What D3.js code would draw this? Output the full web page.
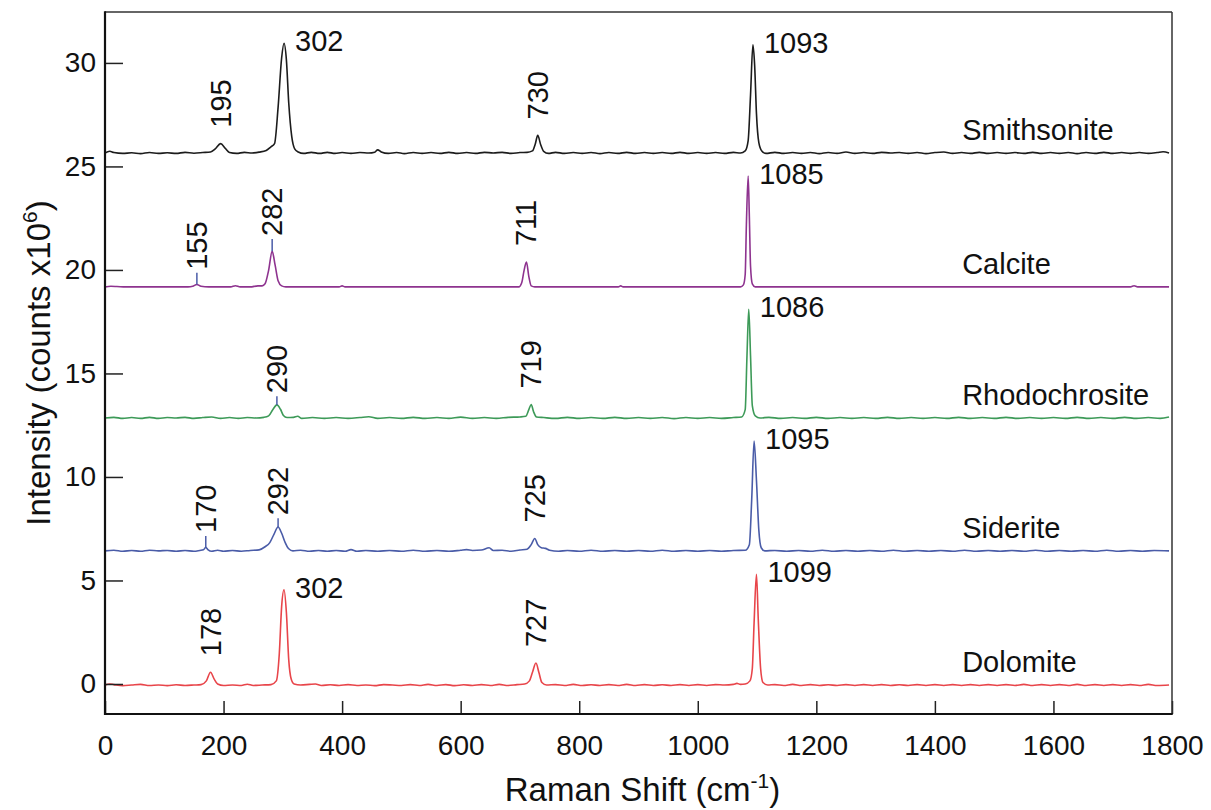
<!DOCTYPE html>
<html>
<head>
<meta charset="utf-8">
<script src="https://cdn.jsdelivr.net/npm/d3@7"></script>
<style>
  html, body { margin: 0; padding: 0; background: #fff; }
  svg { display: block; font-family: "Liberation Sans", Arial, Helvetica, sans-serif; }
</style>
</head>
<body>
<svg id="chart" width="1211" height="810"></svg>
<script>
// Raman spectra of carbonate minerals, stacked with vertical offsets (counts x10^6)

const seriesNames = ["Smithsonite", "Calcite", "Rhodochrosite", "Siderite", "Dolomite"];
const seriesColors = ["#1c1c1c", "#8e338f", "#3d9a58", "#4a5ca8", "#e8454a"];
const seriesOffsets = [25.65, 19.18, 12.85, 6.43, -0.05];

const xTicks = [0, 200, 400, 600, 800, 1000, 1200, 1400, 1600, 1800];
const yTicks = [0, 5, 10, 15, 20, 25, 30];

// [Raman shift (cm^-1), intensity above the trace's own baseline]
const smithsonite = [[0,0],[8,0.08],[15,0.02],[30,-0.02],[45,0.01],[60,-0.03],[75,0.02],[90,-0.02],[105,0.01],[120,-0.02],[135,0.03],[150,-0.01],[165,0.02],[178,0.05],[186,0.2],[195,0.45],[203,0.22],[210,0.02],[222,-0.02],[235,0.03],[248,0],[260,0.04],[272,0.12],[280,0.3],[286,0.45],[292,2.2],[298,4.6],[302,5.3],[306,4.5],[310,2.4],[315,0.8],[320,0.2],[326,0.05],[335,-0.02],[348,0.03],[362,-0.02],[375,0.03],[388,-0.02],[400,0.02],[415,-0.02],[430,0.02],[445,0],[455,0.04],[460,0.15],[466,0.05],[478,-0.02],[492,0.02],[505,-0.03],[520,0.02],[535,-0.02],[550,0.02],[565,-0.02],[580,0.03],[595,-0.02],[610,0.02],[625,-0.02],[640,0.03],[655,0],[670,0.03],[685,-0.02],[700,0.02],[712,0.03],[721,0.1],[726,0.45],[730,0.85],[735,0.4],[740,0.08],[748,-0.02],[760,0.03],[775,-0.02],[790,0.02],[805,-0.02],[820,0.02],[835,-0.03],[850,0.02],[865,-0.02],[880,0.03],[895,-0.02],[910,0.02],[925,-0.02],[940,0.02],[955,-0.02],[970,0.03],[985,-0.02],[1000,0.02],[1015,-0.02],[1030,0.02],[1045,-0.02],[1060,0.03],[1072,0],[1080,0.1],[1085,0.6],[1089,2.8],[1093,5.22],[1096,4.2],[1099,1.9],[1103,0.5],[1108,0.1],[1115,-0.02],[1130,0.03],[1145,-0.02],[1160,0.02],[1175,-0.02],[1190,0.02],[1205,-0.03],[1220,0.02],[1235,-0.02],[1250,0.05],[1265,-0.02],[1280,0.02],[1295,-0.02],[1310,0.03],[1325,0],[1340,0.02],[1355,-0.02],[1370,0.02],[1385,-0.03],[1400,0.02],[1415,0.05],[1430,-0.02],[1445,0.02],[1460,-0.02],[1475,0.03],[1490,-0.02],[1505,0.02],[1520,-0.02],[1535,0.02],[1550,-0.02],[1565,0.03],[1580,-0.02],[1595,0.02],[1610,-0.02],[1625,0.02],[1640,-0.03],[1655,0.02],[1670,-0.02],[1685,0.03],[1700,-0.02],[1715,0.02],[1730,-0.02],[1745,0.02],[1760,-0.02],[1775,0.02],[1785,0.06],[1795,0]];

const calcite = [[0,0],[10,0.03],[20,0.02],[35,0],[60,0],[90,0],[120,0],[140,0],[148,0.03],[155,0.12],[162,0.03],[175,0],[200,0],[212,0],[220,0.06],[228,0],[245,0],[258,0.05],[265,0.05],[270,0.15],[276,0.8],[282,1.72],[287,1.05],[292,0.3],[298,0.05],[305,0],[330,0],[360,0],[395,0],[400,0.05],[405,0],[450,0],[500,0],[550,0],[600,0],[650,0],[698,0],[703,0.2],[707,0.8],[711,1.2],[715,0.5],[719,0.05],[725,0],[780,0],[830,0],[866,0],[870,0.05],[874,0],[920,0],[970,0],[1020,0],[1060,0],[1072,0],[1077,0.1],[1080,0.6],[1082,3.0],[1085,5.36],[1087,3.4],[1089,1.0],[1092,0.15],[1097,0],[1150,0],[1250,0],[1350,0],[1450,0],[1550,0],[1650,0],[1730,0],[1736,0.06],[1742,0],[1795,0]];

const rhodochrosite = [[0,0],[15,0.03],[30,-0.02],[45,0.02],[60,-0.02],[75,0.03],[90,-0.02],[105,0.02],[120,0],[135,0.03],[150,-0.02],[165,0.02],[180,0.05],[195,-0.02],[210,0.02],[225,-0.02],[240,0.02],[255,0],[268,0.03],[276,0.1],[283,0.4],[290,0.63],[296,0.42],[301,0.12],[307,0.02],[318,0.03],[325,0.08],[332,-0.02],[350,0.02],[370,-0.02],[390,0.02],[410,-0.02],[430,0.02],[445,0.06],[460,-0.02],[480,0.02],[500,-0.02],[520,0.03],[540,-0.02],[560,0.02],[580,-0.02],[600,0.04],[620,-0.02],[640,0.02],[660,-0.02],[680,0.03],[700,0.05],[710,0.08],[715,0.4],[719,0.65],[723,0.3],[728,0.05],[740,0.02],[760,-0.02],[780,0.03],[800,-0.02],[820,0.02],[840,-0.02],[860,0.03],[880,-0.02],[900,0.02],[920,-0.02],[940,0.02],[960,-0.03],[980,0.02],[1000,-0.02],[1020,0.02],[1040,-0.02],[1060,0.02],[1074,0.05],[1080,0.4],[1083,3.0],[1086,5.25],[1089,3.0],[1092,0.6],[1097,0.1],[1105,0],[1120,0.03],[1140,-0.02],[1160,0.02],[1180,-0.02],[1200,0.03],[1220,-0.02],[1240,0.02],[1260,-0.02],[1280,0.02],[1300,-0.02],[1320,0.03],[1340,-0.02],[1360,0.02],[1380,-0.02],[1400,0.02],[1420,-0.02],[1440,0.03],[1460,-0.02],[1480,0.02],[1500,-0.02],[1520,0.03],[1540,-0.02],[1560,0.02],[1580,-0.02],[1600,0.02],[1620,-0.02],[1640,0.03],[1660,-0.02],[1680,0.02],[1700,-0.02],[1720,0.03],[1740,-0.02],[1760,0.02],[1780,-0.02],[1795,0.05]];

const siderite = [[0,0],[15,0.03],[30,-0.02],[45,0.02],[60,-0.02],[75,0.03],[90,0],[105,0.02],[120,-0.02],[135,0.02],[150,-0.02],[160,0.02],[166,0.05],[170,0.17],[174,0.05],[180,-0.02],[190,0.03],[200,-0.02],[215,0.02],[230,-0.02],[245,0.02],[260,0.05],[270,0.2],[278,0.4],[285,0.8],[292,1.15],[298,0.85],[304,0.4],[310,0.1],[317,0],[330,0.03],[345,-0.02],[360,0.02],[375,-0.02],[390,0.02],[405,-0.02],[415,0.06],[425,-0.02],[440,0.02],[460,-0.02],[480,0.02],[500,-0.02],[520,0.03],[540,-0.02],[560,0.02],[580,-0.02],[600,0.03],[610,0.06],[620,0.02],[635,0.04],[648,0.15],[655,0.02],[670,0.03],[685,-0.02],[700,0.04],[712,0.08],[719,0.3],[725,0.6],[730,0.3],[736,0.15],[743,0.12],[750,0.03],[765,-0.02],[780,0.02],[800,-0.02],[820,0.03],[840,-0.02],[860,0.02],[880,-0.02],[900,0.02],[920,-0.02],[940,0.03],[960,-0.02],[980,0.02],[1000,-0.02],[1020,0.02],[1040,-0.02],[1060,0.02],[1080,0.03],[1087,0.3],[1091,2.5],[1095,5.3],[1099,3.4],[1103,1.0],[1107,0.15],[1113,0],[1130,0.02],[1150,-0.02],[1170,0.02],[1190,-0.02],[1210,0.03],[1230,-0.02],[1250,0.02],[1270,-0.02],[1290,0.02],[1310,-0.02],[1330,0.03],[1350,-0.02],[1370,0.02],[1390,-0.02],[1410,0.02],[1430,-0.02],[1450,0.03],[1470,-0.02],[1490,0.02],[1510,-0.02],[1530,0.02],[1550,-0.02],[1570,0.03],[1590,-0.02],[1610,0.02],[1630,-0.02],[1650,0.02],[1670,-0.02],[1690,0.03],[1710,-0.02],[1730,0.02],[1750,-0.02],[1770,0.02],[1795,0]];

const dolomite = [[0,0],[8,0.05],[15,0.02],[30,-0.03],[45,0],[60,0.03],[75,-0.02],[90,0],[105,-0.03],[120,0.01],[135,-0.02],[150,0],[162,0.02],[171,0.2],[178,0.62],[184,0.3],[190,0.05],[200,-0.02],[215,0],[230,-0.02],[240,0.04],[250,-0.02],[265,0],[280,0.02],[289,0.2],[294,1.5],[298,3.8],[302,4.6],[306,3.5],[310,1.2],[314,0.3],[319,0.05],[330,0],[345,0.03],[355,0.05],[365,-0.02],[380,0.01],[395,-0.02],[410,0.02],[425,-0.02],[440,0],[455,-0.03],[470,0.02],[485,0],[500,-0.02],[515,0.02],[530,-0.02],[545,0.03],[560,-0.02],[575,0.02],[590,-0.03],[605,0.01],[620,-0.02],[635,0.02],[650,-0.02],[665,0.03],[680,-0.02],[695,0.02],[708,0.05],[716,0.2],[721,0.6],[727,1.06],[732,0.6],[737,0.12],[745,0],[760,0.02],[775,-0.02],[790,0.03],[805,-0.02],[820,0.01],[835,-0.02],[850,0.02],[865,-0.02],[880,0.03],[895,-0.02],[910,0.02],[925,-0.02],[940,0.01],[955,-0.02],[970,0.02],[985,-0.02],[1000,0.02],[1015,-0.02],[1030,0.02],[1045,0],[1060,0.03],[1066,0.08],[1072,0.03],[1080,0.05],[1088,0.2],[1092,0.8],[1095,3.0],[1099,5.35],[1102,3.2],[1106,0.8],[1110,0.12],[1118,0],[1130,0.02],[1145,-0.02],[1160,0.03],[1175,-0.02],[1190,0.02],[1205,-0.02],[1220,0.01],[1235,-0.02],[1250,0.02],[1265,-0.02],[1280,0.02],[1295,-0.02],[1310,0.02],[1325,-0.02],[1340,0.01],[1355,-0.02],[1370,0.02],[1385,-0.02],[1400,0.02],[1415,-0.02],[1430,0.02],[1445,-0.02],[1460,0.02],[1475,-0.02],[1490,0.02],[1505,-0.02],[1520,0.02],[1535,-0.02],[1550,0.03],[1565,-0.02],[1580,0.02],[1595,-0.02],[1610,0.02],[1625,-0.02],[1640,0.03],[1655,-0.02],[1670,0.02],[1685,-0.02],[1700,0.02],[1715,-0.02],[1730,0.02],[1745,-0.02],[1760,0.03],[1775,-0.02],[1795,0]];

const spectra = [smithsonite, calcite, rhodochrosite, siderite, dolomite];

// Annotated band positions per trace; "upright" labels are written sideways above the band
const peakSeries   = [0, 0, 0, 0, 1, 1, 1, 1, 2, 2, 2, 3, 3, 3, 3, 4, 4, 4, 4];
const peakPositions = [195, 302, 730, 1093, 155, 282, 711, 1085, 290, 719, 1086, 170, 292, 725, 1095, 178, 302, 727, 1099];
const peakUpright  = [true, false, true, false, true, true, true, false, true, true, false, true, true, true, false, true, false, true, false];

// Short band markers: trace index, position, top (intensity above baseline)
const markerSeries = [1, 1, 2, 3, 3];
const markerPositions = [155, 282, 290, 170, 292];
const markerTops = [0.68, 2.32, 1.05, 0.72, 1.57];

const svg = d3.select("#chart");
const plotLeft = 105, plotRight = 1172, plotTop = 12, plotBottom = 714;

const x = d3.scaleLinear().domain([0, 1800]).range([plotLeft, plotRight]);
const y = d3.scaleLinear().domain([-1.45, 32.46]).range([plotBottom, plotTop]);

const ink = "#111";

// spectra
const line = d3.line().x(d => x(d[0])).y(d => y(d[1])).curve(d3.curveMonotoneX);
spectra.forEach((s, i) => {
  const off = seriesOffsets[i];
  svg.append("path")
    .datum(s.map(p => [p[0], p[1] + off]))
    .attr("fill", "none")
    .attr("stroke", seriesColors[i])
    .attr("stroke-width", 1.6)
    .attr("stroke-linejoin", "round")
    .attr("d", line);
});

// band markers
markerSeries.forEach((si, k) => {
  const off = seriesOffsets[si];
  const px = markerPositions[k];
  const near = spectra[si].filter(p => Math.abs(p[0] - px) <= 8);
  const peakTop = d3.max(near, p => p[1]);
  svg.append("line")
    .attr("x1", x(px)).attr("x2", x(px))
    .attr("y1", y(off + peakTop)).attr("y2", y(off + markerTops[k]))
    .attr("stroke", "#4a5ca8").attr("stroke-width", 1.5);
});

// band labels
peakSeries.forEach((si, k) => {
  const off = seriesOffsets[si];
  const px = peakPositions[k];
  const near = spectra[si].filter(p => Math.abs(p[0] - px) <= 8);
  const peakTop = d3.max(near, p => p[1]);
  const mIdx = markerPositions.findIndex((m, j) => m === px && markerSeries[j] === si);
  const t = svg.append("text").attr("fill", ink).attr("font-size", 29).text(px);
  if (peakUpright[k]) {
    const anchorY = mIdx >= 0 ? y(off + markerTops[mIdx]) - 3 : y(off + peakTop) - 16;
    t.attr("transform", `translate(${x(px) + 10},${anchorY}) rotate(-90)`)
      .attr("text-anchor", "start");
  } else {
    t.attr("x", x(px) + 11)
      .attr("y", y(off + peakTop) - 2)
      .attr("dominant-baseline", "central");
  }
});

// trace names
seriesNames.forEach((n, i) => {
  svg.append("text")
    .attr("x", x(1446))
    .attr("y", y(seriesOffsets[i]) - 23)
    .attr("dominant-baseline", "central")
    .attr("font-size", 29)
    .attr("fill", ink)
    .text(n);
});

// axes (ticks point inward)
const xAxis = svg.append("g")
  .attr("transform", `translate(0,${plotBottom})`)
  .call(d3.axisBottom(x).tickValues(xTicks).tickSize(-13).tickPadding(21).tickFormat(d3.format("d")));
const yAxis = svg.append("g")
  .attr("transform", `translate(${plotLeft},0)`)
  .call(d3.axisLeft(y).tickValues(yTicks).tickSize(-18).tickPadding(9).tickFormat(d3.format("d")));
[xAxis, yAxis].forEach(g => {
  g.select(".domain").remove();
  g.selectAll(".tick line").attr("stroke", "#222").attr("stroke-width", 1.5);
  g.selectAll(".tick text").attr("fill", ink).attr("font-size", 28)
    .attr("font-family", "'Liberation Sans', Arial, Helvetica, sans-serif");
});

// frame
svg.append("line").attr("x1", plotLeft).attr("x2", plotRight).attr("y1", plotTop).attr("y2", plotTop)
  .attr("stroke", "#333").attr("stroke-width", 1.5);
svg.append("line").attr("x1", plotRight).attr("x2", plotRight).attr("y1", plotTop).attr("y2", plotBottom)
  .attr("stroke", "#333").attr("stroke-width", 1.5);
svg.append("line").attr("x1", plotLeft).attr("x2", plotLeft).attr("y1", plotTop - 0.75).attr("y2", plotBottom + 1)
  .attr("stroke", "#111").attr("stroke-width", 2.2);
svg.append("line").attr("x1", plotLeft - 1).attr("x2", plotRight + 0.75).attr("y1", plotBottom).attr("y2", plotBottom)
  .attr("stroke", "#111").attr("stroke-width", 2.2);

// axis titles
const xt = svg.append("text")
  .attr("x", (plotLeft + plotRight) / 2 + 4).attr("y", 801)
  .attr("text-anchor", "middle").attr("font-size", 33).attr("fill", ink);
xt.append("tspan").text("Raman Shift (cm");
xt.append("tspan").attr("font-size", 21).attr("dy", -13).text("-1");
xt.append("tspan").attr("dy", 13).text(")");

const yt = svg.append("text")
  .attr("transform", `translate(50,${(plotTop + plotBottom) / 2}) rotate(-90)`)
  .attr("text-anchor", "middle").attr("font-size", 33).attr("fill", ink);
yt.append("tspan").text("Intensity (counts x10");
yt.append("tspan").attr("font-size", 21).attr("dy", -13).text("6");
yt.append("tspan").attr("dy", 13).text(")");
</script>
</body>
</html>
